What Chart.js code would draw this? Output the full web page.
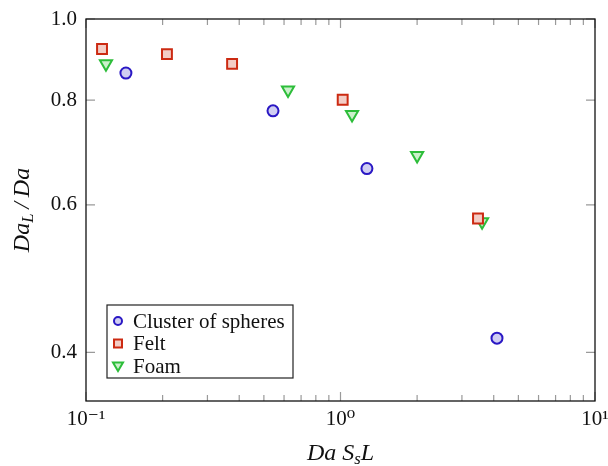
<!DOCTYPE html>
<html>
<head>
<meta charset="utf-8">
<script src="https://cdn.jsdelivr.net/npm/chart.js@4/dist/chart.umd.min.js"></script>
<style>
  html, body { margin: 0; padding: 0; background: #fff; }
</style>
</head>
<body>
<canvas id="myChart" width="608" height="466"></canvas>
<script>
// values
const sphereX = [0.1435, 0.543, 1.27, 4.12];
const sphereY = [0.862, 0.777, 0.663, 0.416];
const feltX = [0.1156, 0.208, 0.375, 1.02, 3.47];
const feltY = [0.921, 0.908, 0.884, 0.801, 0.578];
const foamX = [0.1198, 0.622, 1.11, 2.0, 3.6];
const foamY = [0.884, 0.823, 0.769, 0.687, 0.573];

const yTicks = [0.4, 0.6, 0.8, 1.0];
const xMajor = [0.1, 1, 10];
const xLabels = ["10\u207B\u00B9", "10\u2070", "10\u00B9"];

// minor ticks 2..9 in each decade
const xMinor = [];
[0.1, 1].forEach(d => { for (let k = 2; k <= 9; k++) xMinor.push(+(d * k).toFixed(4)); });

const pts = (xs, ys) => xs.map((x, i) => ({ x: x, y: ys[i] }));

const serif = "'Liberation Serif', 'DejaVu Serif', serif";

const series = [
  { label: "Cluster of spheres", data: pts(sphereX, sphereY), pointStyle: "circle", pointRadius: 5.5,
    borderColor: "#2a18c4", backgroundColor: "#d0cef2", rotation: 0 },
  { label: "Felt", data: pts(feltX, feltY), pointStyle: "rect", pointRadius: 7,
    borderColor: "#cc2a12", backgroundColor: "#f3cdc6", rotation: 0 },
  { label: "Foam", data: pts(foamX, foamY), pointStyle: "triangle", pointRadius: 7,
    borderColor: "#2dbd3a", backgroundColor: "#cbf0cb", rotation: 180 },
];

// text with subscripts, parts = [[text, isSub], ...]
function richText(ctx, parts, cx, cy, size) {
  let w = 0;
  parts.forEach(p => {
    ctx.font = "italic " + (p[1] ? size * 0.7 : size) + "px " + serif;
    w += ctx.measureText(p[0]).width;
  });
  let x = cx - w / 2;
  parts.forEach(p => {
    ctx.font = "italic " + (p[1] ? size * 0.7 : size) + "px " + serif;
    ctx.fillText(p[0], x, p[1] ? cy + size * 0.22 : cy);
    x += ctx.measureText(p[0]).width;
  });
}

const framePlugin = {
  id: "frame",
  afterDraw(chart) {
    const ctx = chart.ctx, a = chart.chartArea;
    const xs = chart.scales.x, ys = chart.scales.y;
    ctx.save();
    // inward ticks
    ctx.strokeStyle = "#9a9a9a";
    ctx.lineWidth = 1.2;
    ctx.beginPath();
    yTicks.forEach(v => {
      const py = ys.getPixelForValue(v);
      ctx.moveTo(a.left, py); ctx.lineTo(a.left + 9, py);
      ctx.moveTo(a.right, py); ctx.lineTo(a.right - 9, py);
    });
    xMajor.concat(xMinor).forEach(v => {
      const px = xs.getPixelForValue(v);
      const len = xMajor.includes(v) ? 9 : 6;
      ctx.moveTo(px, a.bottom); ctx.lineTo(px, a.bottom - len);
      ctx.moveTo(px, a.top); ctx.lineTo(px, a.top + len);
    });
    ctx.stroke();
    // frame
    ctx.strokeStyle = "#111";
    ctx.lineWidth = 1.3;
    ctx.strokeRect(a.left, a.top, a.right - a.left, a.bottom - a.top);

    // axis titles
    ctx.fillStyle = "#111";
    ctx.textBaseline = "middle";
    ctx.textAlign = "left";
    richText(ctx, [["Da ", false], ["S", false], ["s", true], ["L", false]], (a.left + a.right) / 2, 454, 24);
    ctx.save();
    ctx.translate(23, (a.top + a.bottom) / 2);
    ctx.rotate(-Math.PI / 2);
    richText(ctx, [["Da", false], ["L", true], ["\u2009/\u2009Da", false]], 0, 0, 24);
    ctx.restore();

    // legend box
    const bx = a.left + 21, by = a.bottom - 96, bw = 186, bh = 73;
    ctx.fillStyle = "#fff";
    ctx.fillRect(bx, by, bw, bh);
    ctx.strokeStyle = "#222";
    ctx.lineWidth = 1.2;
    ctx.strokeRect(bx, by, bw, bh);
    series.forEach((s, i) => {
      const cy = by + 16 + i * 22.5;
      const cx = bx + 11;
      ctx.beginPath();
      ctx.lineWidth = 2;
      ctx.strokeStyle = s.borderColor;
      ctx.fillStyle = s.backgroundColor;
      if (s.pointStyle === "circle") {
        ctx.arc(cx, cy, 4, 0, Math.PI * 2);
      } else if (s.pointStyle === "rect") {
        ctx.rect(cx - 4, cy - 4, 8, 8);
      } else {
        ctx.moveTo(cx - 5, cy - 3.5); ctx.lineTo(cx + 5, cy - 3.5); ctx.lineTo(cx, cy + 5); ctx.closePath();
      }
      ctx.fill(); ctx.stroke();
      ctx.fillStyle = "#111";
      ctx.font = "21px " + serif;
      ctx.textAlign = "left";
      ctx.fillText(s.label, bx + 26, cy + 1);
    });
    ctx.restore();
  }
};

new Chart("myChart", {
  type: "scatter",
  data: {
    datasets: series.map(s => ({
      label: s.label,
      data: s.data,
      pointStyle: s.pointStyle,
      pointRadius: s.pointRadius,
      pointHoverRadius: s.pointRadius,
      pointBorderWidth: 2,
      pointRotation: s.rotation,
      borderColor: s.borderColor,
      backgroundColor: s.backgroundColor,
    })),
  },
  options: {
    responsive: false,
    animation: false,
    layout: { padding: { left: 0, right: 13, top: 19, bottom: 0 } },
    plugins: { legend: { display: false }, tooltip: { enabled: false } },
    scales: {
      x: {
        type: "logarithmic",
        min: 0.1,
        max: 10,
        afterFit: s => { s.height = 65; s.paddingLeft = 0; s.paddingRight = 0; },
        afterBuildTicks: s => { s.ticks = xMajor.map(v => ({ value: v })); },
        grid: { display: false, drawTicks: false },
        border: { display: false },
        ticks: {
          autoSkip: false,
          maxRotation: 0,
          padding: 6,
          color: "#111",
          font: { family: serif, size: 21 },
          callback: (v) => xLabels[xMajor.indexOf(v)] ?? "",
        },
      },
      y: {
        type: "logarithmic",
        min: 0.35,
        max: 1.0,
        afterFit: s => { s.width = 86; s.paddingTop = 0; s.paddingBottom = 0; },
        afterBuildTicks: s => { s.ticks = yTicks.map(v => ({ value: v })); },
        grid: { display: false, drawTicks: false },
        border: { display: false },
        ticks: {
          autoSkip: false,
          padding: 9,
          color: "#111",
          font: { family: serif, size: 21 },
          callback: (v) => Number(v).toFixed(1),
        },
      },
    },
  },
  plugins: [framePlugin],
});
</script>
</body>
</html>
